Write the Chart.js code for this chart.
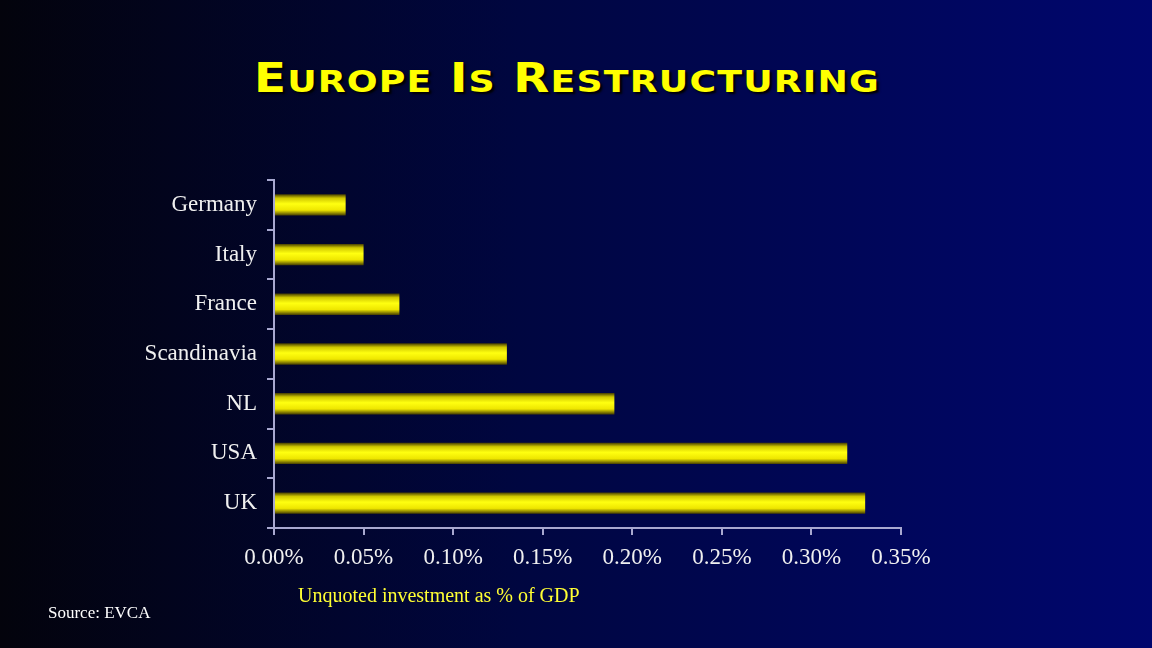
<!DOCTYPE html>
<html>
<head>
<meta charset="utf-8">
<script src="https://cdn.jsdelivr.net/npm/chart.js@4.4.1/dist/chart.umd.min.js"></script>
<style>
  html, body { margin: 0; padding: 0; }
  body {
    width: 1152px; height: 648px; overflow: hidden; position: relative;
    background: linear-gradient(to right, #03030c 0%, #000640 45%, #00066e 100%);
  }
  #title {
    position: absolute; left: -18px; width: 1170px; top: 56px; text-align: center;
    font-family: "DejaVu Sans", sans-serif; font-weight: bold;
    font-size: 40px; letter-spacing: 1px; color: #ffff00; line-height: 44px;
    text-shadow: 2px 2px 2px #000000;
    transform: scaleX(1.17);
  }
  #title .sc { font-size: 31px; }
  #axisNote {
    position: absolute; left: 298px; top: 584px;
    font-family: "Liberation Serif", serif; font-size: 20px; color: #ffff33;
  }
  #source {
    position: absolute; left: 48px; top: 603px;
    font-family: "Liberation Serif", serif; font-size: 17px; color: #ffffff;
  }
  #wrap { position: absolute; left: 0; top: 0; width: 1152px; height: 648px; }
</style>
</head>
<body>
<div id="title">E<span class="sc">UROPE</span> I<span class="sc">S</span> R<span class="sc">ESTRUCTURING</span></div>
<div id="wrap"><canvas id="myChart"></canvas></div>
<div id="axisNote">Unquoted investment as % of GDP</div>
<div id="source">Source: EVCA</div>
<script>
// các quốc gia và giá trị (% GDP)
const countries = ['Germany', 'Italy', 'France', 'Scandinavia', 'NL', 'USA', 'UK'];
const investValues = [0.04, 0.05, 0.07, 0.13, 0.19, 0.32, 0.33];
const xTicks = [0, 0.05, 0.10, 0.15, 0.20, 0.25, 0.30, 0.35];

// thanh màu vàng có bóng kiểu ống trụ
function barGradient(context) {
  const chart = context.chart;
  const yScale = chart.scales.y;
  if (!chart.chartArea || !yScale) return '#ffff00';
  const yc = yScale.getPixelForValue(context.dataIndex);
  const half = 10.5;
  const g = chart.ctx.createLinearGradient(0, yc - half, 0, yc + half);
  g.addColorStop(0, '#4a4200');
  g.addColorStop(0.18, '#d0c800');
  g.addColorStop(0.45, '#ffff10');
  g.addColorStop(0.75, '#eee600');
  g.addColorStop(1, '#4a4200');
  return g;
}

const axisColor = '#a8a8d0';
const ctx = document.getElementById('myChart').getContext('2d');
const myChart = new Chart(ctx, {
  type: 'bar',
  data: {
    labels: countries,
    datasets: [{
      data: investValues,
      backgroundColor: barGradient,
      borderWidth: 0,
      barPercentage: 0.43,
      categoryPercentage: 1
    }]
  },
  options: {
    indexAxis: 'y',
    responsive: true,
    maintainAspectRatio: false,
    animation: false,
    layout: { padding: { left: 134, right: 251, top: 180, bottom: 72 } },
    plugins: { legend: { display: false }, tooltip: { enabled: false } },
    scales: {
      x: {
        min: 0, max: 0.35,
        afterBuildTicks: function(scale) {
          scale.ticks = xTicks.map(v => ({ value: v }));
        },
        afterFit: function(scale) { scale.height = 48; },
        grid: { drawOnChartArea: false, drawTicks: true, tickLength: 7, color: axisColor, lineWidth: 2 },
        border: { color: axisColor, width: 2 },
        ticks: {
          color: '#f0f0f0',
          padding: 9,
          font: { family: 'Liberation Serif', size: 23 },
          callback: function(value) { return value.toFixed(2) + '%'; }
        }
      },
      y: {
        afterFit: function(scale) { scale.width = 140; },
        grid: { drawOnChartArea: false, drawTicks: true, tickLength: 7, color: axisColor, lineWidth: 2 },
        border: { color: axisColor, width: 2 },
        ticks: {
          color: '#f0f0f0',
          padding: 10,
          font: { family: 'Liberation Serif', size: 23 }
        }
      }
    }
  }
});
</script>
</body>
</html>
